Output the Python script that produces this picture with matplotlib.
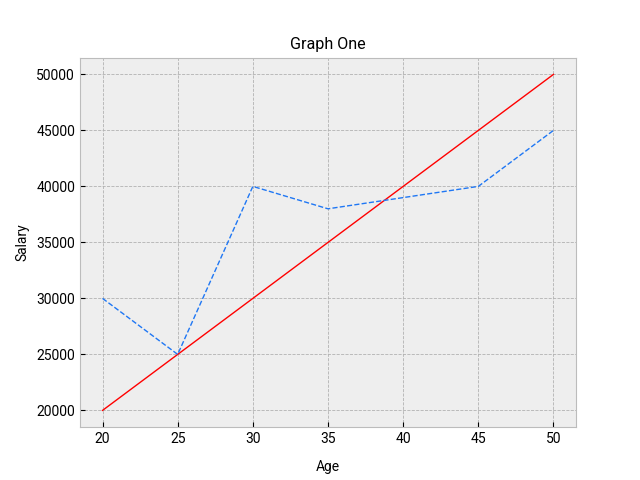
import matplotlib.pyplot as plt

ages = [20, 25, 30, 35, 40, 45, 50]
salary_red = [20000, 25000, 30000, 35000, 40000, 45000, 50000]
salary_blue = [30000, 25000, 40000, 38000, 39000, 40000, 45000]

plt.style.use("bmh")
plt.rcParams["font.family"] = ["Roboto", "DejaVu Sans"]

fig = plt.figure(figsize=(6.4, 4.8), dpi=100)
plt.plot(ages, salary_red, color="red", linewidth=1)
plt.plot(ages, salary_blue, color="#1f77f4", linestyle="--", linewidth=1)

plt.title("Graph One", fontsize=11.6)
plt.xlabel("Age", fontsize=10, labelpad=10)
plt.ylabel("Salary", fontsize=10, labelpad=5)
plt.xticks(fontsize=10)
plt.yticks(fontsize=10)
plt.grid(True, linestyle="--", linewidth=0.6, color="#b2b2b2")

plt.savefig("out.png", dpi=100)
